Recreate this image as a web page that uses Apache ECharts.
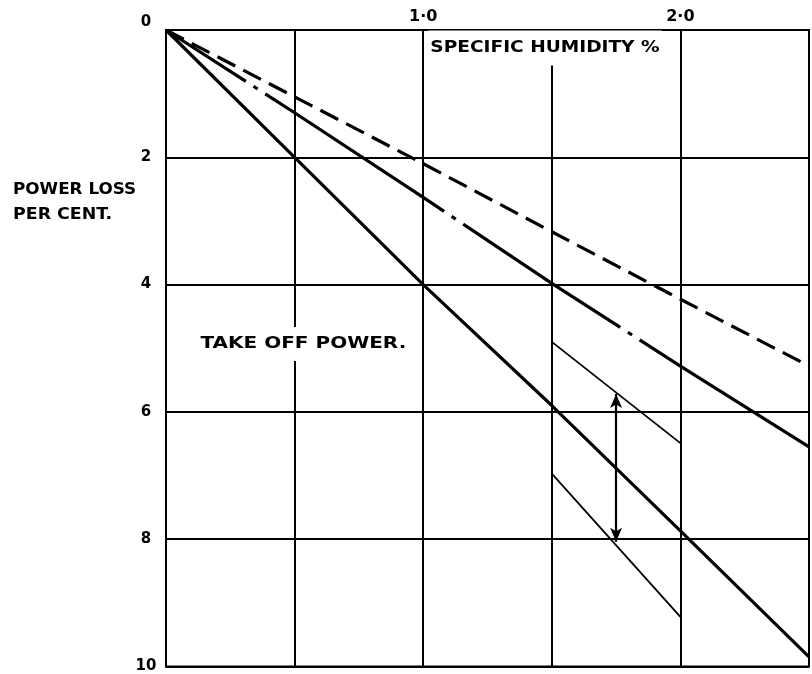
<!DOCTYPE html>
<html>
<head>
<meta charset="utf-8">
<script src="https://cdn.jsdelivr.net/npm/echarts@6/dist/echarts.min.js"></script>
<style>
  html, body { margin: 0; padding: 0; background: #fff; }
  #chart { width: 812px; height: 674px; }
</style>
</head>
<body>
<div id="chart"></div>
<script>
// Specific humidity (%) at which each curve is read
const humidity = [0, 0.5, 1.0, 1.5, 2.0, 2.5];
// Power loss (per cent) for the three take-off curves
const lossSolid = [0, 2.0, 4.0, 5.9, 7.87, 9.85];
const lossChain = [0, 1.3, 2.63, 3.98, 5.28, 6.55];
const lossDashed = [0, 1.05, 2.1, 3.17, 4.23, 5.28];
// Thin band lines between 1.5 and 2.0 % humidity
const bandX = [1.5, 2.0];
const bandUpper = [4.9, 6.49];
const bandLower = [6.97, 9.22];
// Double-headed arrow spanning the band
const arrowX = 1.75;
const arrowFrom = 5.72;
const arrowTo = 8.04;
// Tick labels
const xTickValues = [1, 2];
const xTickLabels = ['1·0', '2·0'];
const yTickLabels = ['0', '2', '4', '6', '8', '10'];

const FONT = "'DejaVu Sans', sans-serif";
const INK = '#000';

const pairs = (xs, ys) => xs.map((x, i) => [x, ys[i]]);

const chart = echarts.init(document.getElementById('chart'), null, { renderer: 'canvas' });

chart.setOption({
  backgroundColor: '#fff',
  animation: false,
  grid: {
    left: 166, right: 1, top: 30, bottom: 6,
    show: true, borderColor: INK, borderWidth: 2
  },
  xAxis: {
    type: 'value', position: 'top',
    min: 0, max: 2.5, interval: 0.5,
    axisLine: { show: true, lineStyle: { color: INK, width: 2 } },
    axisTick: { show: false },
    splitLine: { show: true, lineStyle: { color: INK, width: 2 } },
    axisLabel: {
      margin: 5, color: INK, fontFamily: FONT, fontWeight: 'bold', fontSize: 16,
      formatter: v => {
        const i = xTickValues.indexOf(Math.round(v * 10) / 10);
        return i >= 0 ? xTickLabels[i] : '';
      }
    }
  },
  yAxis: {
    type: 'value', inverse: true,
    min: 0, max: 10, interval: 2,
    axisLine: { show: true, lineStyle: { color: INK, width: 2 } },
    axisTick: { show: false },
    splitLine: { show: true, lineStyle: { color: INK, width: 2 } },
    axisLabel: {
      margin: 20, align: 'center', color: INK,
      fontFamily: FONT, fontWeight: 'bold', fontSize: 15,
      formatter: v => {
        const s = yTickLabels[Math.round(v / 2)];
        return v === 0 ? '{top|' + s + '}' : s;
      },
      rich: {
        top: { fontFamily: FONT, fontWeight: 'bold', fontSize: 15, color: INK, padding: [0, 0, 16, 0] }
      }
    }
  },
  series: [
    {
      type: 'line', data: pairs(humidity, lossSolid),
      showSymbol: false, z: 5,
      lineStyle: { color: INK, width: 3.2 }
    },
    {
      type: 'line', data: pairs(humidity, lossChain),
      showSymbol: false, z: 5,
      lineStyle: {
        color: INK, width: 3.2,
        type: [95, 9, 5, 9, 214, 9, 5, 9, 188, 9, 5, 9, 1000, 0]
      }
    },
    {
      type: 'line', data: pairs(humidity, lossDashed),
      showSymbol: false, z: 5,
      lineStyle: { color: INK, width: 3.2, type: [20, 9] }
    },
    {
      type: 'line', data: pairs(bandX, bandUpper),
      showSymbol: false, z: 5,
      lineStyle: { color: INK, width: 1.8 }
    },
    {
      type: 'line', data: pairs(bandX, bandLower),
      showSymbol: false, z: 5,
      lineStyle: { color: INK, width: 1.8 },
      markLine: {
        silent: true,
        symbol: ['arrow', 'arrow'],
        symbolSize: [9, 14],
        label: { show: false },
        lineStyle: { color: INK, width: 2.2, type: 'solid' },
        data: [[{ coord: [arrowX, arrowFrom] }, { coord: [arrowX, arrowTo] }]]
      }
    }
  ],
  graphic: [
    {
      type: 'text', z: 100, x: 428, y: 48, scaleX: 1.16,
      style: {
        text: 'SPECIFIC HUMIDITY %', fill: INK,
        font: "bold 16px 'DejaVu Sans', sans-serif",
        align: 'left', verticalAlign: 'middle',
        backgroundColor: '#fff', padding: [7, 2, 12, 2]
      }
    },
    {
      type: 'text', z: 100, x: 198, y: 344, scaleX: 1.25,
      style: {
        text: 'TAKE OFF POWER.', fill: INK,
        font: "bold 16px 'DejaVu Sans', sans-serif",
        align: 'left', verticalAlign: 'middle',
        backgroundColor: '#fff', padding: [10, 2, 8, 2]
      }
    },
    {
      type: 'text', z: 100, x: 13, y: 190, scaleX: 1.12,
      style: {
        text: 'POWER LOSS', fill: INK,
        font: "bold 15px 'DejaVu Sans', sans-serif",
        align: 'left', verticalAlign: 'middle'
      }
    },
    {
      type: 'text', z: 100, x: 13, y: 215, scaleX: 1.16,
      style: {
        text: 'PER CENT.', fill: INK,
        font: "bold 15px 'DejaVu Sans', sans-serif",
        align: 'left', verticalAlign: 'middle'
      }
    }
  ]
});
</script>
</body>
</html>
